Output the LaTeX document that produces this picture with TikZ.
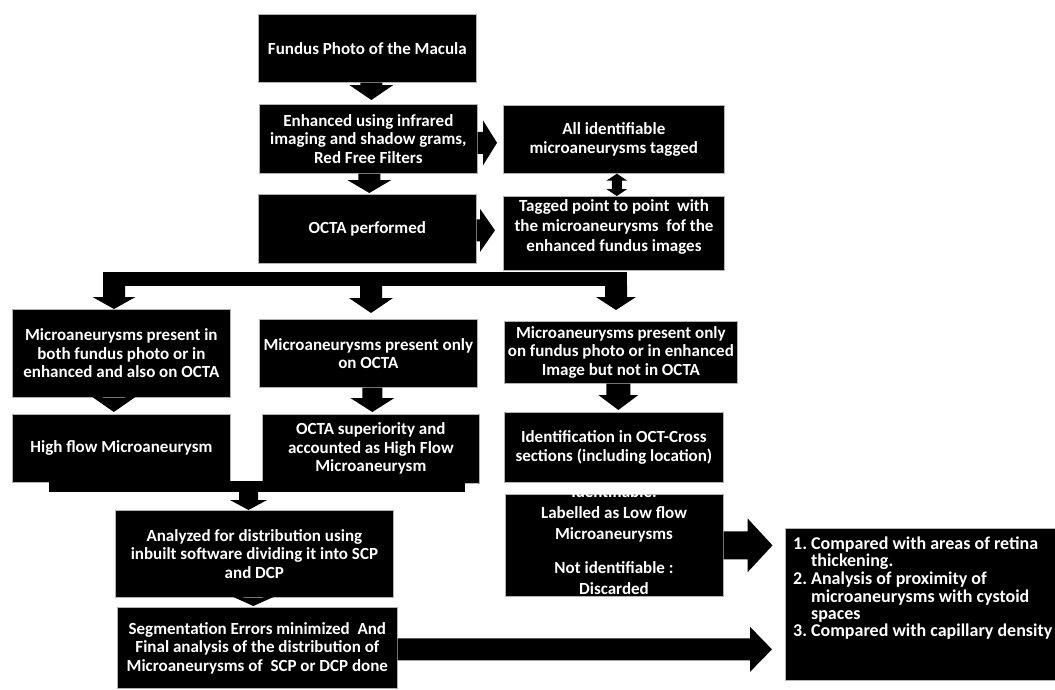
\documentclass[tikz,border=0pt]{standalone}
\usepackage{fontspec}
\setmainfont{Carlito}
\usetikzlibrary{calc}
% vertical block arrow: x and top from #1, tip y from #2, shaft half #3, head half #4, head length #5
\newcommand\varw[5]{\fill let \p1=#1, \p2=#2 in (\x1-#3,\y1) -- (\x1+#3,\y1) -- (\x1+#3,\y2+#5) -- (\x1+#4,\y2+#5) -- (\x1,\y2) -- (\x1-#4,\y2+#5) -- (\x1-#3,\y2+#5) -- cycle;}
% horizontal block arrow: start and y from #1, tip x from #2
\newcommand\harw[5]{\fill let \p1=#1, \p2=#2 in (\x1,\y1+#3) -- (\x2-#5,\y1+#3) -- (\x2-#5,\y1+#4) -- (\x2,\y1) -- (\x2-#5,\y1-#4) -- (\x2-#5,\y1-#3) -- (\x1,\y1-#3) -- cycle;}
\begin{document}
\begin{tikzpicture}[x=1pt,y=-1pt,
  box/.style={draw=gray!60, line width=0.7pt, fill=black, text=white,
    font=\fontsize{17}{18.5}\selectfont\bfseries, align=center, inner sep=1pt, anchor=north west},
  txt/.style={text=white, font=\fontsize{17}{20}\selectfont\bfseries, align=center, inner sep=0pt}]
\fill[white] (0,0) rectangle (1055,689);
\useasboundingbox (0,0) rectangle (1055,689);

% boxes
\node[box, minimum width=218pt, minimum height=68pt] (fundus) at (258,14) {Fundus Photo of the Macula};
\node[box, minimum width=218pt, minimum height=69pt] (enh) at (259,104) {Enhanced using infrared\\imaging and shadow grams,\\Red Free Filters};
\node[box, minimum width=218pt, minimum height=69pt] (octa) at (258,194) {OCTA performed};
\node[box, minimum width=221pt, minimum height=68pt] (alltag) at (503,105) {All identifiable\\microaneurysms tagged};
\node[box, minimum width=221pt, minimum height=74pt] (tagpt) at (503,196) {};
\node[txt] (tagtxt) at (614,226.5) {Tagged point to point~ with\\the microaneurysms~ fof the\\enhanced fundus images};

\node[box, minimum width=218pt, minimum height=88pt] (mboth) at (12,309) {Microaneurysms present in\\both fundus photo or in\\enhanced and also on OCTA};
\node[box, minimum width=218pt, minimum height=68pt] (high) at (12,414) {High flow Microaneurysm};
\node[box, minimum width=218pt, minimum height=68pt] (monly) at (259,319) {Microaneurysms present only\\on OCTA};
\node[box, minimum width=217pt, minimum height=69pt] (octasup) at (262,414) {OCTA superiority and\\accounted as High Flow\\Microaneurysm};
\node[box, minimum width=233pt, minimum height=62pt, inner sep=0pt] (mfund) at (504,321) {Microaneurysms present only\\on fundus photo or in enhanced\\Image but not in OCTA};
\node[box, minimum width=219pt, minimum height=70pt] (ident) at (504,412) {Identification in OCT-Cross\\sections (including location)};
\node[box, minimum width=218pt, minimum height=102pt] (label) at (505,494) {};
\begin{scope}
\clip (label.north west) rectangle (label.south east);
\node[txt, font=\fontsize{17}{21}\selectfont\bfseries] (labeltxt) at (614,540) {Identifiable:\\Labelled as Low flow\\Microaneurysms\\[13pt]Not identifiable :\\Discarded};
\end{scope}

\node[box, minimum width=278pt, minimum height=87pt] (anal) at (115,510) {Analyzed for distribution using\\inbuilt software dividing it into SCP\\and DCP};
\node[box, minimum width=280pt, minimum height=81pt] (seg) at (117,607) {Segmentation Errors minimized~ And\\Final analysis of the distribution of\\Microaneurysms of~ SCP or DCP done};
\node[box, minimum width=270pt, minimum height=152pt] (list) at (785,528) {};
\node[text=white, font=\fontsize{18}{17}\selectfont\bfseries, inner sep=0pt, anchor=base west] (listtxt) at (793,549)
  {\begin{tabular}[t]{@{}l@{\hspace{4pt}}l@{}}
   1. & Compared with areas of retina\\
      & thickening.\\
   2. & Analysis of proximity of\\
      & microaneurysms with cystoid\\
      & spaces\\
   3. & Compared with capillary density
   \end{tabular}};

% connectors
\varw{([xshift=4pt]fundus.south)}{([yshift=4pt]enh.north)}{11pt}{22pt}{15pt}
\varw{([xshift=1pt]enh.south)}{([yshift=1pt]octa.north)}{11pt}{22pt}{13pt}
\harw{([yshift=-4pt]enh.east)}{([xshift=-6pt]alltag.west)}{11pt}{22.5pt}{14pt}
\harw{([yshift=-1.5pt]octa.east)}{([xshift=-8pt]tagpt.west)}{11pt}{21.5pt}{15pt}
\fill let \p1=([xshift=3pt]alltag.south), \p2=(tagpt.north) in
  (\x1,\y1) -- (\x1+10.5pt,\y1-7pt) -- (\x1+5pt,\y1-7pt) -- (\x1+5pt,\y2+7pt) -- (\x1+10.5pt,\y2+7pt)
  -- (\x1,\y2) -- (\x1-10.5pt,\y2+7pt) -- (\x1-5pt,\y2+7pt) -- (\x1-5pt,\y1-7pt) -- (\x1-10.5pt,\y1-7pt) -- cycle;

% distribution bar from the tagged box
\coordinate (busL) at (103,272);
\coordinate (busR) at (627,286);
\fill (busL) rectangle (busR);
\coordinate (busA) at (114,285);
\coordinate (busB) at (371,285);
\coordinate (busC) at (616,285);
\varw{(busA)}{(mboth.north)}{11pt}{21.5pt}{12pt}
\varw{(busB)}{([yshift=6pt]monly.north)}{11pt}{22pt}{15pt}
\varw{(busC)}{([yshift=11pt]mfund.north)}{11pt}{20pt}{13pt}

\varw{([xshift=-7.5pt]mboth.south)}{([yshift=2pt]high.north)}{11pt}{21.5pt}{15pt}
\varw{([xshift=4pt]monly.south)}{([yshift=2pt]octasup.north)}{10pt}{22pt}{14pt}
\varw{([xshift=-2.5pt]mfund.south)}{([yshift=2pt]ident.north)}{12pt}{20pt}{15pt}

% bracket collecting the two high-flow boxes
\coordinate (brL) at (49,481);
\coordinate (brR) at (465,492);
\fill (brL) rectangle (brR);
\coordinate (brM) at (248.5,491);
\varw{(brM)}{(anal.north)}{9.5pt}{18.5pt}{10pt}

\varw{([xshift=-1pt]anal.south)}{([yshift=1pt]seg.north)}{10pt}{20pt}{9pt}
\harw{([yshift=-1.5pt]seg.east)}{([xshift=-13pt]list.west)}{11pt}{22.5pt}{22pt}
\harw{([yshift=0pt]label.east)}{([xshift=-12.5pt]list.west)}{14pt}{27pt}{25pt}
\end{tikzpicture}
\end{document}
